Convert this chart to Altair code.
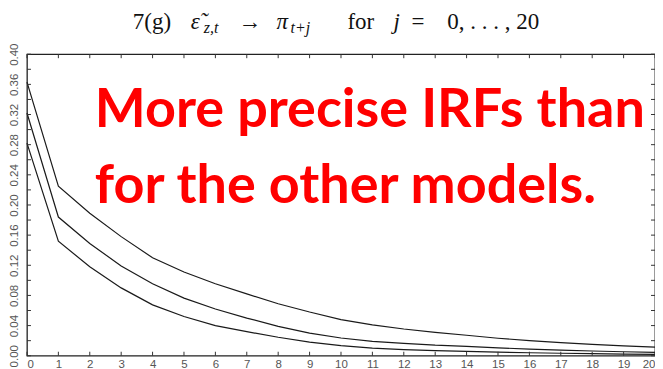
import altair as alt
import pandas as pd

# ---- data ----
horizon = list(range(21))
upper = [0.363, 0.225, 0.189, 0.158, 0.130, 0.111, 0.0955, 0.082, 0.069, 0.058, 0.048,
         0.041, 0.0355, 0.031, 0.0272, 0.0232, 0.020, 0.0173, 0.015, 0.0132, 0.0115]
middle = [0.322, 0.184, 0.149, 0.119, 0.0955, 0.0765, 0.062, 0.050, 0.039, 0.030, 0.0235,
          0.019, 0.0165, 0.014, 0.0125, 0.0105, 0.0088, 0.0075, 0.0063, 0.0053, 0.0045]
lower = [0.282, 0.152, 0.118, 0.090, 0.0675, 0.052, 0.040, 0.032, 0.0245, 0.018, 0.0135,
         0.010, 0.0082, 0.0068, 0.0057, 0.0048, 0.004, 0.0033, 0.0027, 0.0022, 0.0018]
x_ticks = list(range(21))
y_label_ticks = [round(0.04 * i, 2) for i in range(11)]
y_minor_ticks = [round(0.02 * i, 2) for i in range(21)]
note_line1 = "More precise IRFs than"
note_line2 = "for the other models."

W, H = 629, 302

rows = []
for name, series in (("upper", upper), ("middle", middle), ("lower", lower)):
    for j, v in zip(horizon, series):
        rows.append({"j": j, "irf": v, "band": name})
df = pd.DataFrame(rows)

xs = alt.Scale(domain=[0, 20], nice=False, zero=False)
ys = alt.Scale(domain=[0, 0.4], nice=False, zero=True)

x_axis = alt.Axis(values=x_ticks, ticks=False, domain=False, grid=False,
                  labelFontSize=11.5, labelColor="#555", labelPadding=3,
                  labelOverlap=False, labelFont="Liberation Sans")
y_axis = alt.Axis(values=y_label_ticks, format=".2f", ticks=False, domain=False,
                  grid=False, labelAngle=270, labelAlign="center",
                  labelBaseline="bottom", labelPadding=7, labelFontSize=11.5,
                  labelOverlap=False, labelColor="#555", labelFont="Liberation Sans")

lines = alt.Chart(df).mark_line(color="#1a1a1a", strokeWidth=1.2).encode(
    x=alt.X("j:Q", scale=xs, title=None, axis=x_axis),
    y=alt.Y("irf:Q", scale=ys, title=None, axis=y_axis),
    detail="band:N",
)

ytick_df = pd.DataFrame({"v": y_minor_ticks})
xtick_df = pd.DataFrame({"v": x_ticks})
tick_color = "#333"
ytl = alt.Chart(ytick_df).mark_rule(color=tick_color, strokeWidth=1).encode(
    y=alt.Y("v:Q", scale=ys, title=None, axis=y_axis), x=alt.value(0), x2=alt.value(4))
ytr = alt.Chart(ytick_df).mark_rule(color=tick_color, strokeWidth=1).encode(
    y=alt.Y("v:Q", scale=ys, title=None, axis=y_axis), x=alt.value(W - 4), x2=alt.value(W))
xtb = alt.Chart(xtick_df).mark_rule(color=tick_color, strokeWidth=1).encode(
    x=alt.X("v:Q", scale=xs, title=None, axis=x_axis), y=alt.value(H), y2=alt.value(H - 4))
xtt = alt.Chart(xtick_df).mark_rule(color=tick_color, strokeWidth=1).encode(
    x=alt.X("v:Q", scale=xs, title=None, axis=x_axis), y=alt.value(0), y2=alt.value(4))

# ---- title built from pieces (math-like) ----
title_pieces = [
    ("7(g)", 106, -25, 23, "normal"),
    ("ε̃", 164, -25, 23, "italic"),
    ("z,t", 177, -21, 16, "italic"),
    ("→", 212, -25, 23, "normal"),
    ("π", 250, -25, 23, "italic"),
    ("t+j", 264, -21, 16, "italic"),
    ("for", 321, -25, 23, "normal"),
    ("j", 367, -25, 23, "italic"),
    ("=", 385, -25, 23, "normal"),
    ("0,  .  .  .  ,  20", 421, -25, 23, "normal"),
]
title_layers = []
for txt, px, py, fs, style in title_pieces:
    title_layers.append(
        alt.Chart(pd.DataFrame({"t": [txt]})).mark_text(
            align="left", baseline="alphabetic", font="Liberation Serif",
            fontSize=fs, fontStyle=style, color="#111"
        ).encode(text="t:N", x=alt.value(px), y=alt.value(py))
    )

note_df1 = pd.DataFrame({"t": [note_line1]})
note_df2 = pd.DataFrame({"t": [note_line2]})
note1 = alt.Chart(note_df1).mark_text(
    align="left", baseline="alphabetic", font="Lato", fontWeight="bold",
    fontSize=54, color="#ff0000").encode(text="t:N", x=alt.value(68), y=alt.value(73))
note2 = alt.Chart(note_df2).mark_text(
    align="left", baseline="alphabetic", font="Lato", fontWeight="bold",
    fontSize=54, color="#ff0000").encode(text="t:N", x=alt.value(68), y=alt.value(149))

chart = alt.layer(lines, ytl, ytr, xtb, xtt, *title_layers, note1, note2).properties(
    width=W, height=H,
    autosize=alt.AutoSizeParams(type="none"),
    padding={"left": 19, "top": 46, "right": 0, "bottom": 13},
    background="white",
).configure_view(stroke="#222", strokeWidth=1.3)

chart.save("out.html", embed_options={"renderer": "svg", "actions": False})
